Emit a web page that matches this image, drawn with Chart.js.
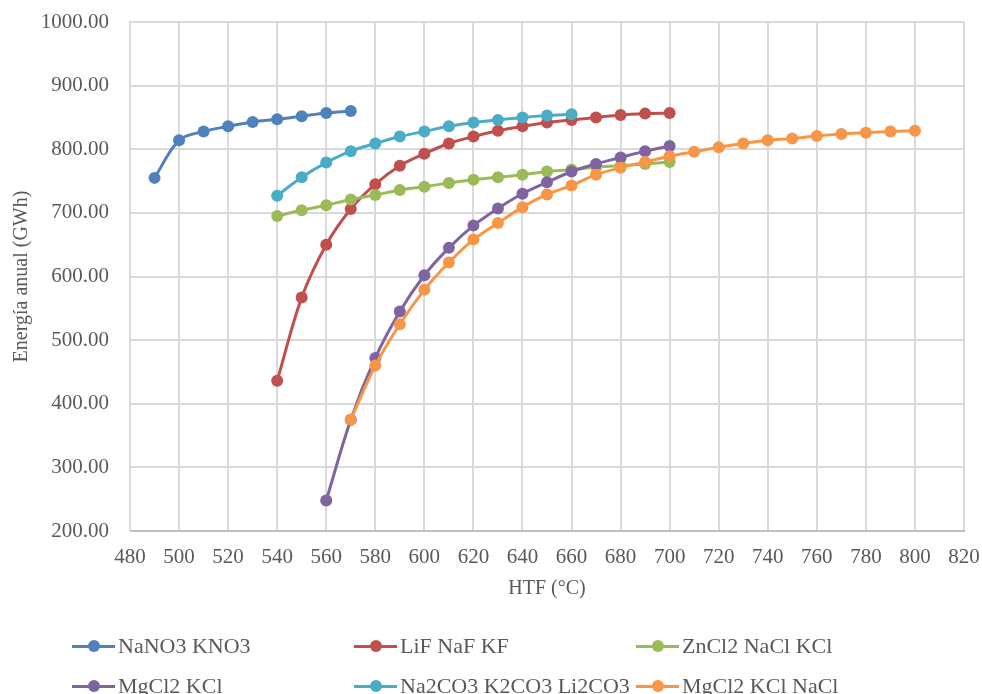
<!DOCTYPE html>
<html>
<head>
<meta charset="utf-8">
<script src="https://cdn.jsdelivr.net/npm/chart.js@4.4.1/dist/chart.umd.min.js"></script>
<style>
  html, body { margin: 0; padding: 0; background: #fff; overflow: hidden; }
  #wrap { position: relative; width: 982px; height: 694px; }
  #chart { display: block; }
  #legend { position: absolute; left: 0; top: 0; width: 982px; height: 694px; pointer-events: none;
    font-family: "Liberation Serif", "Times New Roman", serif; font-size: 22px; color: #595959; }
  .item { position: absolute; display: flex; align-items: center; height: 24px; line-height: 24px; white-space: nowrap; }
  .mark { position: relative; width: 43px; height: 12px; margin-right: 3px; }
  .mark .ln { position: absolute; left: 0; right: 0; top: 5px; height: 3px; }
  .mark .dot { position: absolute; left: 16px; top: 0px; width: 12px; height: 12px; border-radius: 50%; }
</style>
</head>
<body>
<div id="wrap">
  <canvas id="chart" width="982" height="694"></canvas>
  <div id="legend"></div>
</div>
<script>
const seriesNames = ["NaNO3 KNO3", "LiF NaF KF", "ZnCl2 NaCl KCl", "MgCl2 KCl", "Na2CO3 K2CO3 Li2CO3", "MgCl2 KCl NaCl"];
const seriesColors = ["#4f81bd", "#c0504d", "#9bbb59", "#8064a2", "#4bacc6", "#f79646"];

const htfNaNO3 = [490, 500, 510, 520, 530, 540, 550, 560, 570];
const energyNaNO3 = [755, 814, 828, 836, 843, 847, 852, 857, 860];

const htfLiF = [540, 550, 560, 570, 580, 590, 600, 610, 620, 630, 640, 650, 660, 670, 680, 690, 700];
const energyLiF = [436, 567, 650, 706, 745, 774, 793, 809, 820, 829, 836, 842, 846, 850, 854, 856, 857];

const htfZnCl2 = [540, 550, 560, 570, 580, 590, 600, 610, 620, 630, 640, 650, 660, 670, 680, 690, 700];
const energyZnCl2 = [695, 704, 712, 721, 728, 736, 741, 747, 752, 756, 760, 765, 768, 772, 774, 777, 780];

const htfMgKCl = [560, 570, 580, 590, 600, 610, 620, 630, 640, 650, 660, 670, 680, 690, 700];
const energyMgKCl = [248, 375, 472, 545, 602, 645, 680, 707, 730, 748, 765, 777, 787, 797, 805];

const htfNa2CO3 = [540, 550, 560, 570, 580, 590, 600, 610, 620, 630, 640, 650, 660];
const energyNa2CO3 = [727, 756, 779, 797, 809, 820, 828, 836, 842, 846, 850, 853, 855];

const htfMgKNaCl = [570, 580, 590, 600, 610, 620, 630, 640, 650, 660, 670, 680, 690, 700, 710, 720, 730, 740, 750, 760, 770, 780, 790, 800];
const energyMgKNaCl = [375, 460, 525, 579, 622, 658, 684, 709, 729, 743, 760, 771, 780, 789, 796, 803, 809, 814, 817, 821, 824, 826, 828, 829];

const seriesX = [htfNaNO3, htfLiF, htfZnCl2, htfMgKCl, htfNa2CO3, htfMgKNaCl];
const seriesY = [energyNaNO3, energyLiF, energyZnCl2, energyMgKCl, energyNa2CO3, energyMgKNaCl];

const xTitle = "HTF (°C)";
const yTitle = "Energía anual (GWh)";

const textColor = "#595959";
const gridColor = "#d9d9d9";
const serif = "'Liberation Serif', 'Times New Roman', serif";

const datasets = seriesNames.map((name, i) => ({
  label: name,
  data: seriesX[i].map((x, j) => ({ x, y: seriesY[i][j] })),
  borderColor: seriesColors[i],
  backgroundColor: seriesColors[i],
  borderWidth: 3,
  pointRadius: 6,
  pointBorderWidth: 0,
  tension: 0.35,
  clip: false,
  order: seriesNames.length - i
}));

// tick spacing is done with invisible tick marks so the label padding
// does not push the plot area in from the top/right edges
new Chart(document.getElementById("chart"), {
  type: "line",
  data: { datasets },
  options: {
    responsive: false,
    animation: false,
    layout: { padding: { left: 0, right: 18, top: 22, bottom: 83 } },
    plugins: { legend: { display: false }, tooltip: { enabled: false } },
    scales: {
      x: {
        type: "linear",
        min: 480, max: 820,
        ticks: { stepSize: 20, color: textColor, padding: 0, font: { family: serif, size: 21 } },
        grid: { color: gridColor, lineWidth: 2, drawTicks: true, tickLength: 14, tickColor: "rgba(0,0,0,0)" },
        border: { color: "#bfbfbf", width: 2 },
        title: { display: true, text: xTitle, color: textColor, font: { family: serif, size: 20 }, padding: { top: 0, bottom: 10 } },
        afterFit: (s) => { s.height = 80; }
      },
      y: {
        min: 200, max: 1000,
        ticks: { stepSize: 100, color: textColor, padding: 0, font: { family: serif, size: 21 },
          callback: (v) => v.toFixed(2) },
        grid: { color: gridColor, lineWidth: 2, drawTicks: true, tickLength: 21, tickColor: "rgba(0,0,0,0)" },
        border: { color: gridColor, width: 2 },
        title: { display: true, text: yTitle, color: textColor, font: { family: serif, size: 20 }, padding: { top: 10, bottom: 0 } },
        afterFit: (s) => { s.width = 130; }
      }
    }
  }
});

// legend laid out like the original: three fixed columns, two rows
const legendCols = [72, 354, 636];
const legendRows = [646, 686];
const legend = document.getElementById("legend");
seriesNames.forEach((name, i) => {
  const item = document.createElement("div");
  item.className = "item";
  item.style.left = legendCols[i % 3] + "px";
  item.style.top = (legendRows[Math.floor(i / 3)] - 12) + "px";
  item.innerHTML = '<span class="mark"><span class="ln" style="background:' + seriesColors[i] +
    '"></span><span class="dot" style="background:' + seriesColors[i] + '"></span></span><span>' + name + '</span>';
  legend.appendChild(item);
});
</script>
</body>
</html>
